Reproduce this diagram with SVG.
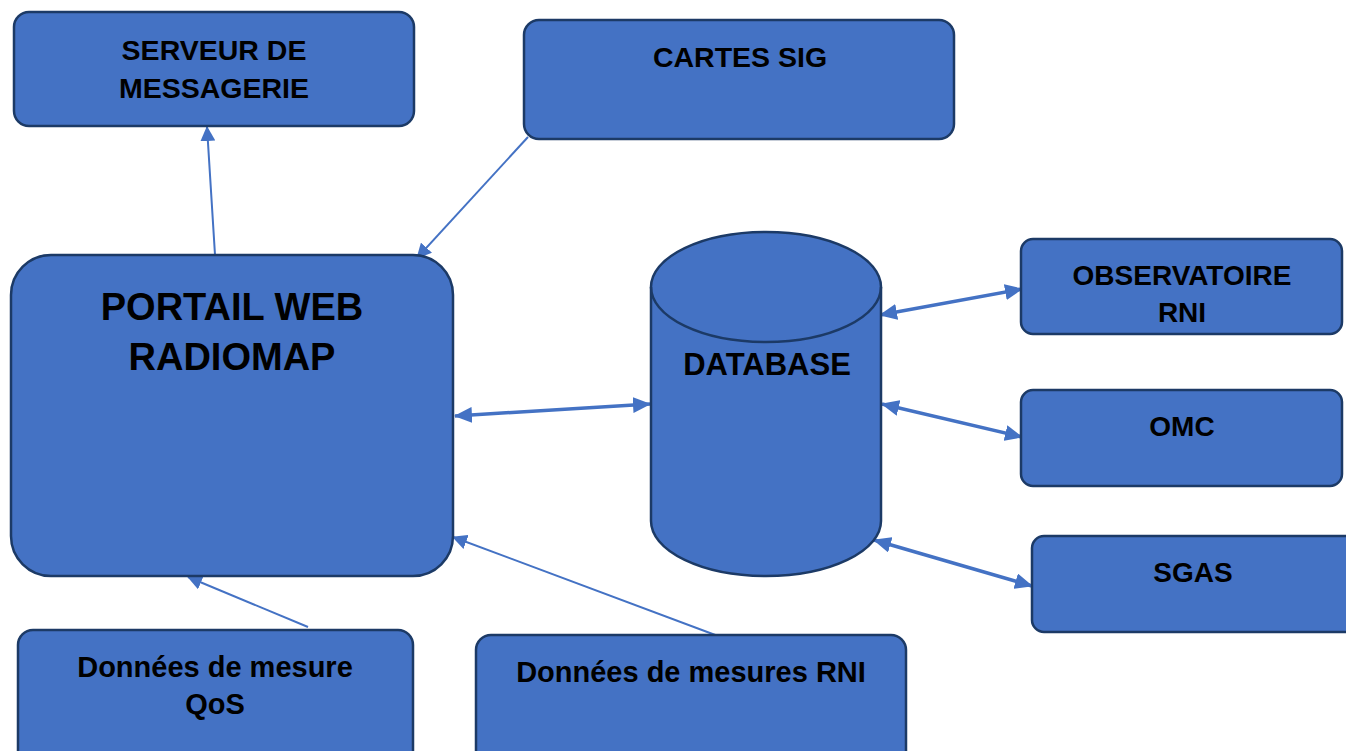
<svg xmlns="http://www.w3.org/2000/svg" width="1346" height="751" viewBox="0 0 1346 751">
<style>
.box{fill:#4472C4;stroke:#1C3A66;stroke-width:2.5}
.t{font-family:"Liberation Sans",Arial,sans-serif;font-weight:bold;fill:#000;text-anchor:middle}
.c{stroke:#4472C4;fill:none}
.thin{stroke-width:2}
.thick{stroke-width:3.5}
</style>
<defs>
<marker id="ah" viewBox="0 0 15 15" refX="14" refY="7.5" markerWidth="15" markerHeight="15" markerUnits="userSpaceOnUse" orient="auto-start-reverse">
<path d="M0,0 L15,7.5 L0,15 Z" fill="#4472C4"/>
</marker>
<marker id="ahb" viewBox="0 0 18 16" refX="17" refY="8" markerWidth="18" markerHeight="16" markerUnits="userSpaceOnUse" orient="auto-start-reverse">
<path d="M0,0 L18,8 L0,16 Z" fill="#4472C4"/>
</marker>
</defs>
<rect width="1346" height="751" fill="#fff"/>
<g id="connectors">
<line class="c thin" x1="215" y1="255" x2="207" y2="127" marker-end="url(#ah)"/>
<line class="c thin" x1="528" y1="137" x2="417" y2="258" marker-end="url(#ah)"/>
<line class="c thick" x1="455" y1="416" x2="650" y2="404" marker-start="url(#ahb)" marker-end="url(#ahb)"/>
<line class="c thick" x1="880" y1="315" x2="1022" y2="289" marker-start="url(#ahb)" marker-end="url(#ahb)"/>
<line class="c thick" x1="882" y1="404" x2="1022" y2="437" marker-start="url(#ahb)" marker-end="url(#ahb)"/>
<line class="c thick" x1="874" y1="540" x2="1032" y2="586" marker-start="url(#ahb)" marker-end="url(#ahb)"/>
<line class="c thin" x1="308" y1="627" x2="188" y2="577" marker-end="url(#ah)"/>
<line class="c thin" x1="718" y1="636" x2="453" y2="537" marker-end="url(#ah)"/>
</g>
<g id="serveur">
<rect class="box" x="14" y="12" width="400" height="114" rx="15"/>
<text class="t" x="214" y="60" font-size="28.5">SERVEUR DE</text>
<text class="t" x="214" y="98" font-size="28.5">MESSAGERIE</text>
</g>
<g id="cartes">
<rect class="box" x="524" y="20" width="430" height="119" rx="15"/>
<text class="t" x="740" y="67" font-size="28.5">CARTES SIG</text>
</g>
<g id="portail">
<rect class="box" x="11" y="255" width="442" height="321" rx="40"/>
<text class="t" x="232" y="320" font-size="38">PORTAIL WEB</text>
<text class="t" x="232" y="370" font-size="38">RADIOMAP</text>
</g>
<g id="database">
<path class="box" d="M651,287 A115,55 0 0 1 881,287 L881,521 A115,55 0 0 1 651,521 Z"/>
<path d="M651,287 A115,55 0 0 0 881,287" fill="none" stroke="#1C3A66" stroke-width="2.5"/>
<text class="t" x="767" y="375" font-size="31">DATABASE</text>
</g>
<g id="observatoire">
<rect class="box" x="1021" y="239" width="321" height="95" rx="12"/>
<text class="t" x="1182" y="285" font-size="28">OBSERVATOIRE</text>
<text class="t" x="1182" y="322" font-size="28">RNI</text>
</g>
<g id="omc">
<rect class="box" x="1021" y="390" width="321" height="96" rx="12"/>
<text class="t" x="1182" y="436" font-size="28">OMC</text>
</g>
<g id="sgas">
<rect class="box" x="1032" y="536" width="330" height="96" rx="12"/>
<text class="t" x="1193" y="582" font-size="28">SGAS</text>
</g>
<g id="qos">
<rect class="box" x="18" y="630" width="395" height="140" rx="15"/>
<text class="t" x="215" y="677" font-size="29">Données de mesure</text>
<text class="t" x="215" y="714" font-size="29">QoS</text>
</g>
<g id="rni">
<rect class="box" x="476" y="635" width="430" height="140" rx="15"/>
<text class="t" x="691" y="682" font-size="29">Données de mesures RNI</text>
</g>
</svg>
